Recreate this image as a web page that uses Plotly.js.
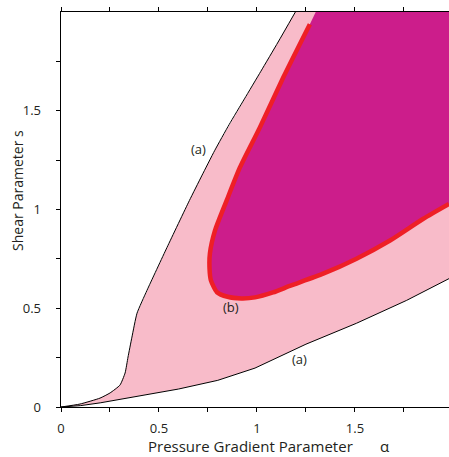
<!DOCTYPE html>
<html>
<head>
<meta charset="utf-8">
<script src="https://cdn.plot.ly/plotly-3.0.1.min.js"></script>
<style>
  html, body { margin: 0; padding: 0; background: #ffffff; }
  #chart { width: 449px; height: 457px; }
</style>
</head>
<body>
<div id="chart"></div>
<script>
// Boundary (a), upper-left branch: pressure gradient alpha vs shear s
const boundaryAUpperAlpha = [0, 0.097, 0.199, 0.25, 0.301, 0.327, 0.342, 0.362, 0.388, 0.439, 0.541, 0.655, 0.718, 0.785, 0.858, 0.936, 1.02, 1.108, 1.196];
const boundaryAUpperShear = [0, 0.015, 0.045, 0.071, 0.111, 0.172, 0.253, 0.354, 0.475, 0.591, 0.808, 1.045, 1.17, 1.30, 1.43, 1.56, 1.70, 1.848, 2.0];

// Boundary (a), lower-right branch
const boundaryALowerAlpha = [0, 0.1, 0.2, 0.4, 0.6, 0.8, 0.99, 1.25, 1.508, 1.764, 1.98];
const boundaryALowerShear = [0, 0.007, 0.021, 0.056, 0.091, 0.135, 0.197, 0.318, 0.424, 0.54, 0.65];

// Boundary (b): edge of the second unstable region (first point sits on the top edge)
const boundaryBAlpha = [1.30, 1.27, 1.134, 1.015, 0.913, 0.845, 0.786, 0.760, 0.758, 0.765, 0.796, 0.85, 0.92, 0.99, 1.082, 1.168, 1.338, 1.508, 1.679, 1.849, 1.98];
const boundaryBShear = [2.0, 1.938, 1.668, 1.416, 1.213, 1.045, 0.894, 0.778, 0.70, 0.641, 0.581, 0.558, 0.55, 0.555, 0.58, 0.613, 0.675, 0.751, 0.843, 0.953, 1.028];

// Axis ticks
const alphaTickVals = [0, 0.25, 0.5, 0.75, 1, 1.25, 1.5, 1.75];
const alphaTickText = ['0', '', '0.5', '', '1', '', '1.5', ''];
const shearTickVals = [0, 0.25, 0.5, 0.75, 1, 1.25, 1.5, 1.75];
const shearTickText = ['0', '', '0.5', '', '1', '', '1.5', ''];

const ALPHA_RANGE = [0, 1.98];
const SHEAR_RANGE = [0, 2.0];

const FONT = 'Open Sans, Noto Sans, sans-serif';
const TEXT = '#231f20';
const PINK = '#f8bbc9';
const MAGENTA = '#cc1d8b';
const RED = '#ee1f26';

// Region (a): between the two branches of boundary (a), closed along the top-right corner
const regionAX = boundaryALowerAlpha
  .concat([ALPHA_RANGE[1]])
  .concat(boundaryAUpperAlpha.slice().reverse());
const regionAY = boundaryALowerShear
  .concat([SHEAR_RANGE[1]])
  .concat(boundaryAUpperShear.slice().reverse());

// Region (b): inside boundary (b), closed along the top-right corner
const regionBX = boundaryBAlpha.concat([ALPHA_RANGE[1]]);
const regionBY = boundaryBShear.concat([SHEAR_RANGE[1]]);

const traces = [
  {
    x: regionAX, y: regionAY, type: 'scatter', mode: 'lines',
    fill: 'toself', fillcolor: PINK, line: { width: 0, color: PINK },
    hoverinfo: 'skip', showlegend: false
  },
  {
    x: regionBX, y: regionBY, type: 'scatter', mode: 'lines',
    fill: 'toself', fillcolor: MAGENTA, line: { width: 0, color: MAGENTA },
    hoverinfo: 'skip', showlegend: false
  },
  {
    x: boundaryAUpperAlpha, y: boundaryAUpperShear, type: 'scatter', mode: 'lines',
    line: { color: '#000000', width: 1, shape: 'spline', smoothing: 0.5 },
    showlegend: false
  },
  {
    x: boundaryALowerAlpha, y: boundaryALowerShear, type: 'scatter', mode: 'lines',
    line: { color: '#000000', width: 1 },
    showlegend: false
  },
  {
    x: boundaryBAlpha.slice(1), y: boundaryBShear.slice(1), type: 'scatter', mode: 'lines',
    line: { color: RED, width: 4.5, shape: 'spline', smoothing: 0.6 },
    showlegend: false
  }
];

const axisCommon = {
  showgrid: false, zeroline: false,
  showline: true, linecolor: '#000000', linewidth: 1.4,
  ticks: 'outside', ticklen: 4, tickwidth: 1, tickcolor: '#000000',
  tickmode: 'array',
  tickfont: { family: FONT, size: 13, color: TEXT }
};

const layout = {
  width: 449, height: 457,
  margin: { l: 61, r: 0, t: 12, b: 50 },
  paper_bgcolor: '#ffffff', plot_bgcolor: '#ffffff',
  font: { family: FONT, size: 13, color: TEXT },
  xaxis: Object.assign({}, axisCommon, {
    range: ALPHA_RANGE, tickvals: alphaTickVals, ticktext: alphaTickText,
    mirror: 'ticks', ticklabelstandoff: 5
  }),
  yaxis: Object.assign({}, axisCommon, {
    range: SHEAR_RANGE, tickvals: shearTickVals, ticktext: shearTickText,
    mirror: false, ticklabelstandoff: 12
  }),
  annotations: [
    { text: '(a)', x: 0.704, y: 1.308, xref: 'x', yref: 'y', showarrow: false, font: { family: FONT, size: 13, color: TEXT } },
    { text: '(b)', x: 0.867, y: 0.505, xref: 'x', yref: 'y', showarrow: false, font: { family: FONT, size: 13, color: TEXT } },
    { text: '(a)', x: 1.219, y: 0.242, xref: 'x', yref: 'y', showarrow: false, font: { family: FONT, size: 13, color: TEXT } },
    {
      text: 'Pressure Gradient Parameter\u00a0\u00a0\u00a0\u00a0\u00a0\u00a0\u00a0α',
      x: 0.536, y: -0.099, xref: 'paper', yref: 'paper', showarrow: false,
      xanchor: 'center', yanchor: 'middle',
      font: { family: FONT, size: 15, color: TEXT }
    },
    {
      text: 'Shear Parameter s',
      x: 0, y: 0.547, xref: 'paper', yref: 'paper', showarrow: false,
      textangle: -90, xanchor: 'center', yanchor: 'middle',
      font: { family: FONT, size: 14, color: TEXT }
    }
  ]
};

// the y-axis title is placed 18 px from the left edge of the figure
layout.annotations[4].x = (18 - layout.margin.l) / (layout.width - layout.margin.l - layout.margin.r);

Plotly.newPlot('chart', traces, layout, { staticPlot: true, displayModeBar: false });
</script>
</body>
</html>
